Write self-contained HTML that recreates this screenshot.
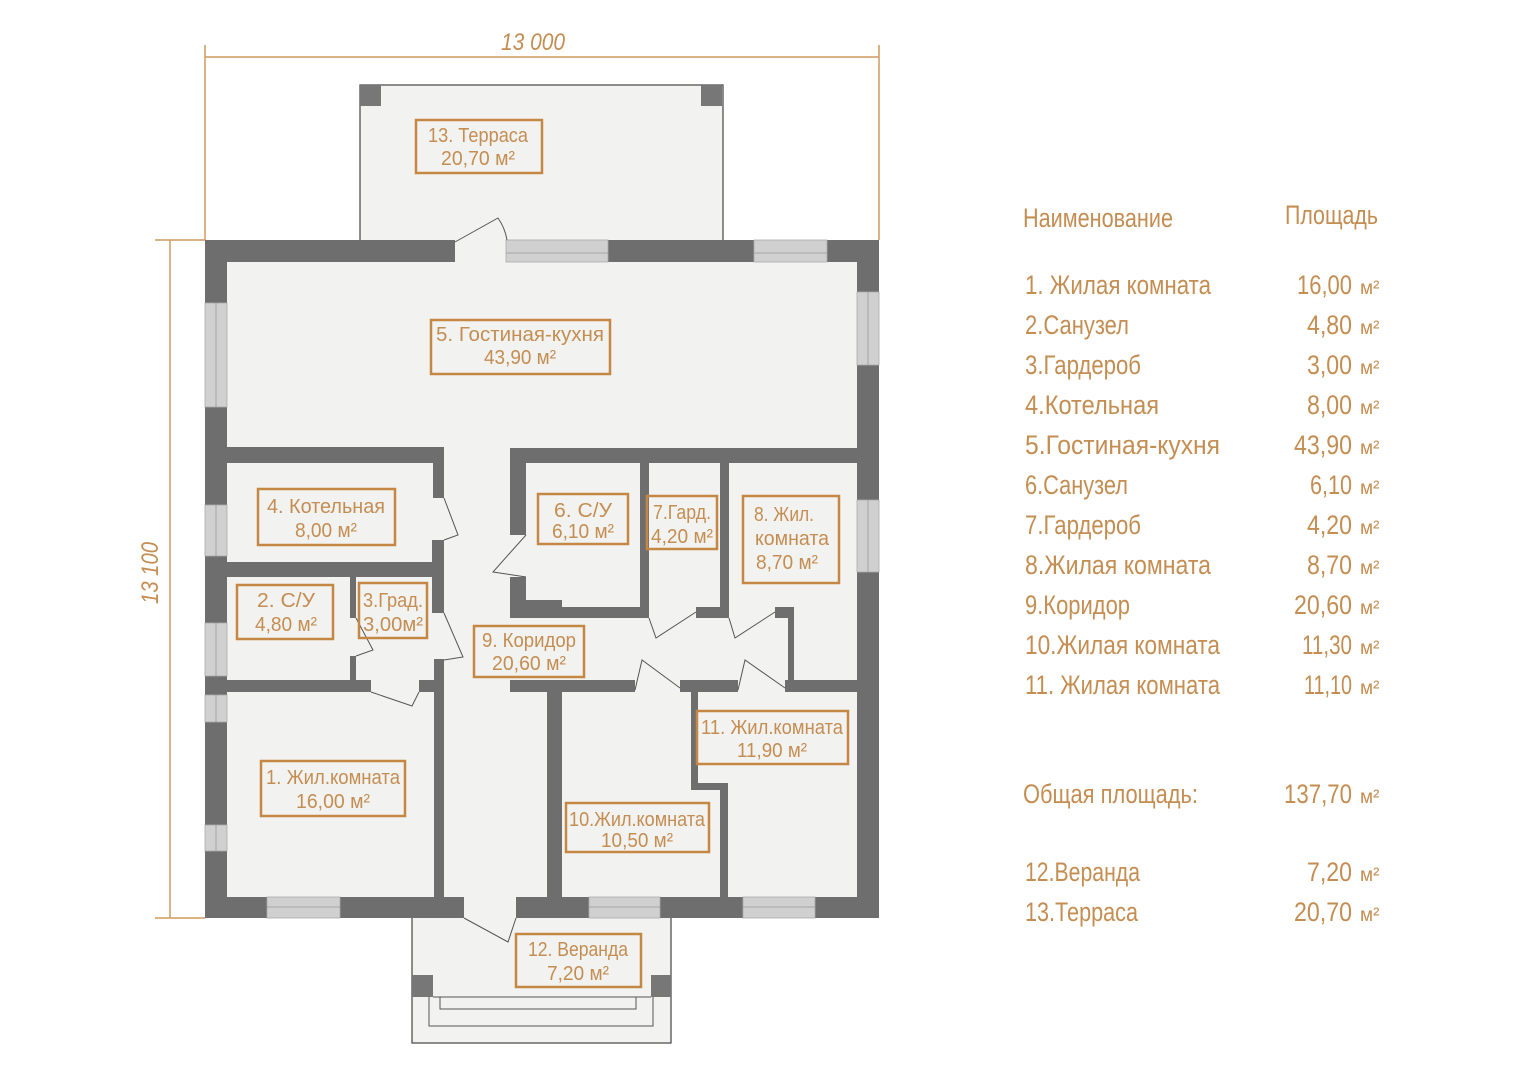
<!DOCTYPE html>
<html><head><meta charset="utf-8"><style>
html,body{margin:0;padding:0;background:#fff;}
svg{display:block;}
.t{font-family:"Liberation Sans Narrow","Liberation Sans",sans-serif;fill:#c48d52;}
.w{fill:#6e6e6e;}
.win{fill:#d0d0d0;}
.lb{fill:none;stroke:#c48844;stroke-width:2.5;}
.d{fill:none;stroke:#555;stroke-width:1;}
</style></head><body>
<svg width="1527" height="1080" viewBox="0 0 1527 1080" xmlns="http://www.w3.org/2000/svg">
<rect width="1527" height="1080" fill="#fff"/>
<g stroke="#d09a5e" stroke-width="1.5">
<line x1="205" y1="57" x2="879" y2="57"/>
<line x1="205" y1="45" x2="205" y2="240"/>
<line x1="879" y1="45" x2="879" y2="240"/>
<line x1="170" y1="240" x2="170" y2="918"/>
<line x1="155" y1="240" x2="205" y2="240"/>
<line x1="155" y1="918" x2="205" y2="918"/>
</g>
<text class="t" x="533" y="50" font-size="24" font-style="italic" text-anchor="middle" textLength="64" lengthAdjust="spacingAndGlyphs">13 000</text>
<text class="t" font-size="24" font-style="italic" text-anchor="middle" transform="translate(158,573) rotate(-90)" textLength="62" lengthAdjust="spacingAndGlyphs">13 100</text>

<rect x="360" y="85" width="363" height="160" fill="#f2f2f0" stroke="#444" stroke-width="1.2"/>
<rect x="360" y="85" width="21" height="21" fill="#777"/>
<rect x="701" y="85" width="21" height="21" fill="#777"/>
<rect x="412" y="915" width="259" height="128" fill="#f2f2f0" stroke="#444" stroke-width="1.2"/>
<g fill="none" stroke="#555" stroke-width="1">
<polyline points="433,997 651,997"/>
<polyline points="429,997 429,1026 653,1026 653,997"/>
<polyline points="440,997 440,1009 636,1009 636,997"/>
</g>
<rect x="412" y="975" width="21" height="22" fill="#777"/>
<rect x="651" y="975" width="20" height="22" fill="#777"/>

<rect x="205" y="240" width="674" height="678" fill="#f2f2f0"/>

<g class="w">
<rect x="205" y="240" width="250" height="22"/>
<rect x="608" y="240" width="146" height="22"/>
<rect x="827" y="240" width="52" height="22"/>
<rect x="205" y="240" width="22" height="63"/>
<rect x="205" y="407" width="22" height="98"/>
<rect x="205" y="556" width="22" height="67"/>
<rect x="205" y="676" width="22" height="19"/>
<rect x="205" y="722" width="22" height="103"/>
<rect x="205" y="851" width="22" height="67"/>
<rect x="857" y="240" width="22" height="52"/>
<rect x="857" y="365" width="22" height="135"/>
<rect x="857" y="572" width="22" height="346"/>
<rect x="205" y="897" width="62" height="21"/>
<rect x="340" y="897" width="124" height="21"/>
<rect x="516" y="897" width="73" height="21"/>
<rect x="660" y="897" width="83" height="21"/>
<rect x="815" y="897" width="64" height="21"/>
</g>
<g class="win" stroke="#aaa" stroke-width="0.8">
<rect x="506" y="240" width="102" height="22"/>
<rect x="754" y="240" width="73" height="22"/>
<rect x="205" y="303" width="22" height="104"/>
<rect x="205" y="505" width="22" height="51"/>
<rect x="205" y="623" width="22" height="53"/>
<rect x="205" y="695" width="22" height="27"/>
<rect x="205" y="825" width="22" height="26"/>
<rect x="857" y="292" width="22" height="73"/>
<rect x="857" y="500" width="22" height="72"/>
<rect x="267" y="897" width="73" height="21"/>
<rect x="589" y="897" width="71" height="21"/>
<rect x="743" y="897" width="72" height="21"/>
</g>
<g stroke="#999" stroke-width="0.8">
<line x1="506" y1="253" x2="608" y2="253"/><line x1="754" y1="253" x2="827" y2="253"/>
<line x1="216" y1="303" x2="216" y2="407"/><line x1="216" y1="505" x2="216" y2="556"/>
<line x1="216" y1="623" x2="216" y2="676"/><line x1="216" y1="695" x2="216" y2="722"/>
<line x1="216" y1="825" x2="216" y2="851"/><line x1="868" y1="292" x2="868" y2="365"/>
<line x1="868" y1="500" x2="868" y2="572"/><line x1="267" y1="907" x2="340" y2="907"/>
<line x1="589" y1="907" x2="660" y2="907"/><line x1="743" y1="907" x2="815" y2="907"/>
</g>
<g class="w">
<rect x="205" y="447" width="239" height="16"/>
<rect x="433" y="447" width="11" height="51"/>
<rect x="432" y="540" width="12" height="73"/>
<rect x="434" y="659" width="10" height="239"/>
<rect x="205" y="562" width="237" height="15"/>
<rect x="350" y="577" width="6" height="41"/>
<rect x="350" y="656" width="6" height="24"/>
<rect x="205" y="680" width="166" height="12"/>
<rect x="419" y="680" width="20" height="12"/>
<rect x="510" y="448" width="347" height="15"/>
<rect x="510" y="448" width="16" height="87"/>
<rect x="510" y="577" width="16" height="41"/>
<rect x="510" y="600" width="52" height="18"/>
<rect x="510" y="607" width="139" height="11"/>
<rect x="640" y="463" width="9" height="155"/>
<rect x="696" y="607" width="33" height="11"/>
<rect x="720" y="463" width="9" height="155"/>
<rect x="775" y="607" width="19" height="11"/>
<rect x="788" y="607" width="6" height="85"/>
<rect x="785" y="680" width="72" height="12"/>
<rect x="510" y="680" width="125" height="12"/>
<rect x="680" y="680" width="58" height="12"/>
<rect x="547" y="680" width="15" height="218"/>
<rect x="691" y="680" width="7" height="110"/>
<rect x="691" y="783" width="37" height="7"/>
<rect x="720" y="783" width="8" height="115"/>
</g>
<g class="d">
<path d="M455,242 L498,218 Q505,228 507,240"/>
<path d="M444,498 L458,535 L444,540"/>
<path d="M526,535 L493,572 L526,577"/>
<path d="M356,618 L373,650 L356,656"/>
<path d="M444,613 L463,657 L444,660"/>
<path d="M371,692 L412,706 L419,692"/>
<path d="M649,618 L656,638 L696,612"/>
<path d="M729,618 L735,638 L775,612"/>
<path d="M635,690 L642,660 L680,688"/>
<path d="M738,690 L745,660 L785,688"/>
<path d="M464,918 L508,942 L516,918"/>
</g>

<g class="lb">
<rect x="416" y="120" width="126" height="53"/>
<rect x="431" y="320" width="179" height="54"/>
<rect x="258" y="489" width="137" height="56"/>
<rect x="538" y="494" width="90" height="50"/>
<rect x="647" y="496" width="70" height="53"/>
<rect x="743" y="496" width="96" height="87"/>
<rect x="237" y="585" width="96" height="54"/>
<rect x="359" y="583" width="68" height="55"/>
<rect x="474" y="626" width="110" height="51"/>
<rect x="697" y="711" width="151" height="53"/>
<rect x="261" y="761" width="144" height="55"/>
<rect x="566" y="803" width="143" height="49"/>
<rect x="516" y="934" width="125" height="53"/>
</g>
<g class="t" font-size="20" text-anchor="middle">
<text x="478" y="142" textLength="100" lengthAdjust="spacingAndGlyphs">13. Терраса</text>
<text x="478" y="165" textLength="74" lengthAdjust="spacingAndGlyphs">20,70 м²</text>
<text x="520" y="341" textLength="168" lengthAdjust="spacingAndGlyphs">5. Гостиная-кухня</text>
<text x="520" y="364" textLength="72" lengthAdjust="spacingAndGlyphs">43,90 м²</text>
<text x="326" y="513" textLength="118" lengthAdjust="spacingAndGlyphs">4. Котельная</text>
<text x="326" y="537" textLength="62" lengthAdjust="spacingAndGlyphs">8,00 м²</text>
<text x="583" y="517" textLength="58" lengthAdjust="spacingAndGlyphs">6. С/У</text>
<text x="583" y="538" textLength="62" lengthAdjust="spacingAndGlyphs">6,10 м²</text>
<text x="682" y="519" textLength="58" lengthAdjust="spacingAndGlyphs">7.Гард.</text>
<text x="682" y="543" textLength="62" lengthAdjust="spacingAndGlyphs">4,20 м²</text>
<text x="784" y="521" textLength="60" lengthAdjust="spacingAndGlyphs">8. Жил.</text>
<text x="792" y="545" textLength="74" lengthAdjust="spacingAndGlyphs">комната</text>
<text x="787" y="569" textLength="62" lengthAdjust="spacingAndGlyphs">8,70 м²</text>
<text x="286" y="607" textLength="58" lengthAdjust="spacingAndGlyphs">2. С/У</text>
<text x="286" y="631" textLength="62" lengthAdjust="spacingAndGlyphs">4,80 м²</text>
<text x="393" y="607" textLength="60" lengthAdjust="spacingAndGlyphs">3.Град.</text>
<text x="393" y="631" textLength="60" lengthAdjust="spacingAndGlyphs">3,00м²</text>
<text x="529" y="647" textLength="94" lengthAdjust="spacingAndGlyphs">9. Коридор</text>
<text x="529" y="670" textLength="74" lengthAdjust="spacingAndGlyphs">20,60 м²</text>
<text x="772" y="734" textLength="142" lengthAdjust="spacingAndGlyphs">11. Жил.комната</text>
<text x="772" y="757" textLength="70" lengthAdjust="spacingAndGlyphs">11,90 м²</text>
<text x="333" y="784" textLength="134" lengthAdjust="spacingAndGlyphs">1. Жил.комната</text>
<text x="333" y="808" textLength="74" lengthAdjust="spacingAndGlyphs">16,00 м²</text>
<text x="637" y="826" textLength="136" lengthAdjust="spacingAndGlyphs">10.Жил.комната</text>
<text x="637" y="847" textLength="72" lengthAdjust="spacingAndGlyphs">10,50 м²</text>
<text x="578" y="956" textLength="100" lengthAdjust="spacingAndGlyphs">12. Веранда</text>
<text x="578" y="980" textLength="62" lengthAdjust="spacingAndGlyphs">7,20 м²</text>
</g>

<g class="t" font-size="27">
<text x="1023" y="227" textLength="150" lengthAdjust="spacingAndGlyphs">Наименование</text>
<text x="1285" y="224" textLength="93" lengthAdjust="spacingAndGlyphs">Площадь</text>
<text x="1025" y="294" textLength="186" lengthAdjust="spacingAndGlyphs">1. Жилая комната</text>
<text x="1025" y="334" textLength="104" lengthAdjust="spacingAndGlyphs">2.Санузел</text>
<text x="1025" y="374" textLength="116" lengthAdjust="spacingAndGlyphs">3.Гардероб</text>
<text x="1025" y="414" textLength="134" lengthAdjust="spacingAndGlyphs">4.Котельная</text>
<text x="1025" y="454" textLength="195" lengthAdjust="spacingAndGlyphs">5.Гостиная-кухня</text>
<text x="1025" y="494" textLength="103" lengthAdjust="spacingAndGlyphs">6.Санузел</text>
<text x="1025" y="534" textLength="116" lengthAdjust="spacingAndGlyphs">7.Гардероб</text>
<text x="1025" y="574" textLength="186" lengthAdjust="spacingAndGlyphs">8.Жилая комната</text>
<text x="1025" y="614" textLength="105" lengthAdjust="spacingAndGlyphs">9.Коридор</text>
<text x="1025" y="654" textLength="195" lengthAdjust="spacingAndGlyphs">10.Жилая комната</text>
<text x="1025" y="694" textLength="195" lengthAdjust="spacingAndGlyphs">11. Жилая комната</text>
<text x="1023" y="803" textLength="175" lengthAdjust="spacingAndGlyphs">Общая площадь:</text>
<text x="1025" y="881" textLength="115" lengthAdjust="spacingAndGlyphs">12.Веранда</text>
<text x="1025" y="921" textLength="113" lengthAdjust="spacingAndGlyphs">13.Терраса</text>
</g>
<g class="t" font-size="27" text-anchor="end" lengthAdjust="spacingAndGlyphs">
<text x="1352" y="294" textLength="55" lengthAdjust="spacingAndGlyphs">16,00</text>
<text x="1352" y="334" textLength="45" lengthAdjust="spacingAndGlyphs">4,80</text>
<text x="1352" y="374" textLength="45" lengthAdjust="spacingAndGlyphs">3,00</text>
<text x="1352" y="414" textLength="45" lengthAdjust="spacingAndGlyphs">8,00</text>
<text x="1352" y="454" textLength="58" lengthAdjust="spacingAndGlyphs">43,90</text>
<text x="1352" y="494" textLength="42" lengthAdjust="spacingAndGlyphs">6,10</text>
<text x="1352" y="534" textLength="45" lengthAdjust="spacingAndGlyphs">4,20</text>
<text x="1352" y="574" textLength="45" lengthAdjust="spacingAndGlyphs">8,70</text>
<text x="1352" y="614" textLength="58" lengthAdjust="spacingAndGlyphs">20,60</text>
<text x="1352" y="654" textLength="50" lengthAdjust="spacingAndGlyphs">11,30</text>
<text x="1352" y="694" textLength="48" lengthAdjust="spacingAndGlyphs">11,10</text>
<text x="1352" y="803" textLength="68" lengthAdjust="spacingAndGlyphs">137,70</text>
<text x="1352" y="881" textLength="45" lengthAdjust="spacingAndGlyphs">7,20</text>
<text x="1352" y="921" textLength="58" lengthAdjust="spacingAndGlyphs">20,70</text>
</g>
<g class="t" font-size="19">
<text x="1360" y="294">м²</text>
<text x="1360" y="334">м²</text>
<text x="1360" y="374">м²</text>
<text x="1360" y="414">м²</text>
<text x="1360" y="454">м²</text>
<text x="1360" y="494">м²</text>
<text x="1360" y="534">м²</text>
<text x="1360" y="574">м²</text>
<text x="1360" y="614">м²</text>
<text x="1360" y="654">м²</text>
<text x="1360" y="694">м²</text>
<text x="1360" y="803">м²</text>
<text x="1360" y="881">м²</text>
<text x="1360" y="921">м²</text>
</g>
</svg>
</body></html>
